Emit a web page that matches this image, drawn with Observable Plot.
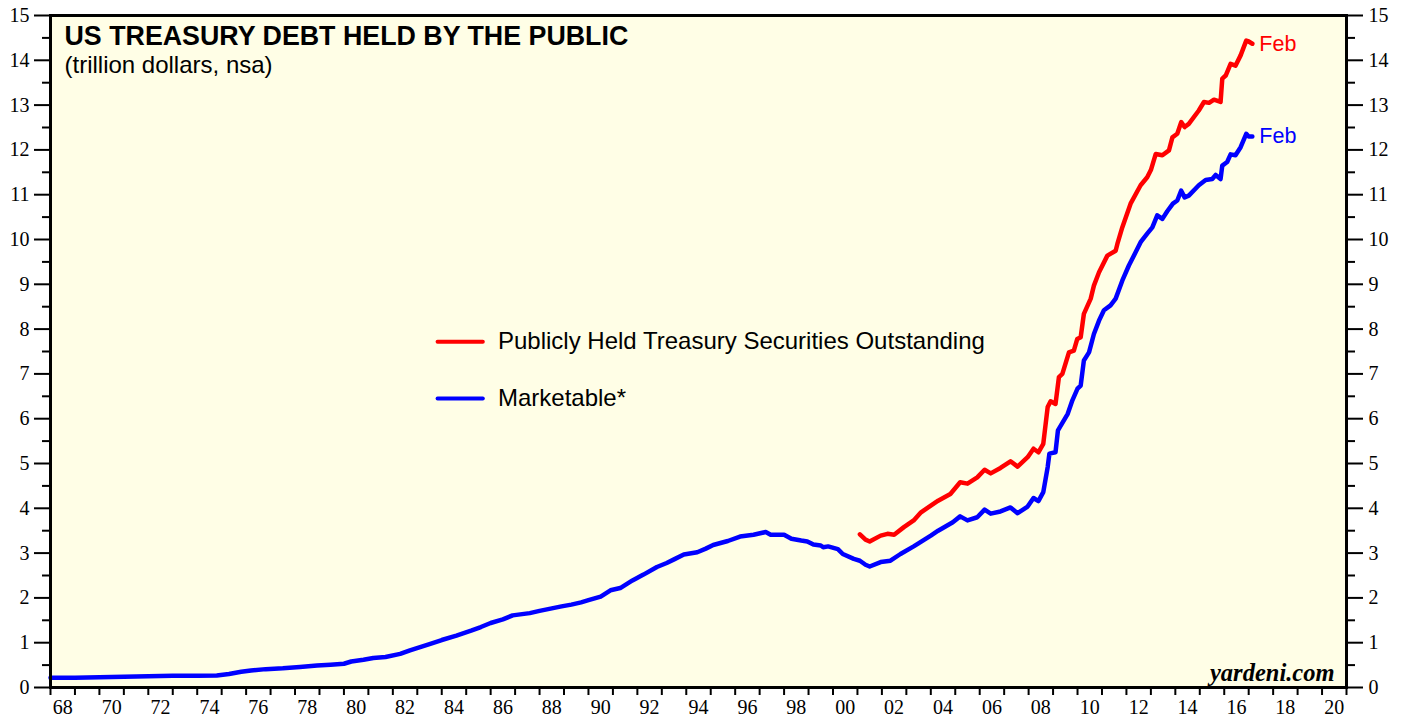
<!DOCTYPE html>
<html>
<head>
<meta charset="utf-8">
<script src="https://cdn.jsdelivr.net/npm/d3@7"></script>
<script src="https://cdn.jsdelivr.net/npm/@observablehq/plot@0.6"></script>
<style>
  html, body { margin: 0; padding: 0; background: #ffffff; }
  #chart { width: 1405px; height: 719px; }
</style>
</head>
<body>
<div id="chart"></div>
<script>
// ---- Data ----
const title = "US TREASURY DEBT HELD BY THE PUBLIC";
const subtitle = "(trillion dollars, nsa)";
const seriesNames = ["Publicly Held Treasury Securities Outstanding", "Marketable*"];
const seriesColors = ["#ff0000", "#0000ff"];
const lastLabel = "Feb";
const source = "yardeni.com";

// Marketable (blue)
const blueYears = [
  1968.0, 1969.0, 1970.0, 1971.0, 1972.0, 1973.0, 1974.0, 1974.8, 1975.3, 1975.8,
  1976.2, 1976.8, 1977.5, 1978.2, 1978.9, 1979.45, 1980.0, 1980.3, 1980.8, 1981.2,
  1981.7, 1982.3, 1982.7, 1983.5, 1984.0, 1984.6, 1985.2, 1985.6, 1986.0, 1986.5,
  1986.9, 1987.6, 1988.0, 1988.45, 1988.9, 1989.3, 1989.7, 1990.0, 1990.5, 1990.9,
  1991.3, 1991.8, 1992.25, 1992.8, 1993.2, 1993.5, 1993.9, 1994.45, 1994.8, 1995.1,
  1995.7, 1996.2, 1996.75, 1997.25, 1997.45, 1998.0, 1998.3, 1998.7, 1998.95, 1999.2,
  1999.5, 1999.6, 1999.8, 2000.2, 2000.4, 2000.85, 2001.1, 2001.33, 2001.5, 2001.95,
  2002.35, 2002.76, 2003.3, 2004.0, 2004.3, 2004.9, 2005.2, 2005.5, 2005.9, 2006.2,
  2006.45, 2006.85, 2007.26, 2007.55, 2007.96, 2008.2, 2008.4, 2008.6, 2008.78, 2008.85,
  2009.1, 2009.2, 2009.6, 2009.79, 2010.0, 2010.13, 2010.26, 2010.47, 2010.67, 2010.88,
  2011.08, 2011.35, 2011.56, 2011.83, 2012.1, 2012.38, 2012.58, 2012.85, 2013.06, 2013.26,
  2013.47, 2013.67, 2013.9, 2014.08, 2014.24, 2014.38, 2014.55, 2014.96, 2015.24, 2015.51,
  2015.65, 2015.85, 2015.92, 2016.12, 2016.26, 2016.46, 2016.67, 2016.9, 2017.0, 2017.15
];
const blueValues = [
  0.22, 0.22, 0.23, 0.24, 0.25, 0.26, 0.26, 0.27, 0.30, 0.35,
  0.38, 0.41, 0.43, 0.46, 0.49, 0.51, 0.53, 0.58, 0.62, 0.66,
  0.68, 0.75, 0.83, 0.97, 1.06, 1.16, 1.27, 1.35, 1.44, 1.52,
  1.61, 1.66, 1.71, 1.76, 1.81, 1.85, 1.90, 1.95, 2.03, 2.17,
  2.22, 2.39, 2.52, 2.69, 2.78, 2.86, 2.97, 3.02, 3.10, 3.18,
  3.27, 3.37, 3.41, 3.47, 3.41, 3.41, 3.32, 3.28, 3.26, 3.19,
  3.17, 3.13, 3.15, 3.09, 2.98, 2.87, 2.83, 2.74, 2.70, 2.80,
  2.83, 2.98, 3.15, 3.39, 3.50, 3.69, 3.82, 3.73, 3.80, 3.97,
  3.88, 3.93, 4.02, 3.89, 4.04, 4.23, 4.16, 4.36, 4.92, 5.22,
  5.25, 5.74, 6.11, 6.41, 6.67, 6.74, 7.30, 7.48, 7.89, 8.19,
  8.42, 8.53, 8.68, 9.08, 9.42, 9.72, 9.94, 10.13, 10.27, 10.54,
  10.46, 10.63, 10.80, 10.87, 11.09, 10.94, 10.98, 11.21, 11.33, 11.35,
  11.44, 11.35, 11.65, 11.73, 11.90, 11.88, 12.06, 12.36, 12.30, 12.30
];

// Publicly held treasury securities outstanding (red)
const redYears = [
  2001.1, 2001.33, 2001.5, 2001.95, 2002.23, 2002.5, 2002.9, 2003.3, 2003.6, 2004.0,
  2004.3, 2004.8, 2005.2, 2005.5, 2005.9, 2006.2, 2006.45, 2006.85, 2007.26, 2007.55,
  2007.96, 2008.2, 2008.4, 2008.6, 2008.78, 2008.9, 2009.1, 2009.24, 2009.38, 2009.65,
  2009.85, 2009.99, 2010.13, 2010.26, 2010.54, 2010.67, 2010.88, 2011.22, 2011.56, 2011.63,
  2011.83, 2012.17, 2012.58, 2012.85, 2013.0, 2013.2, 2013.47, 2013.74, 2013.88, 2014.08,
  2014.24, 2014.38, 2014.55, 2014.96, 2015.17, 2015.38, 2015.58, 2015.85, 2015.92, 2016.06,
  2016.26, 2016.46, 2016.67, 2016.9, 2017.0, 2017.15
];
const redValues = [
  3.42, 3.30, 3.26, 3.39, 3.43, 3.41, 3.58, 3.73, 3.91, 4.06,
  4.17, 4.32, 4.58, 4.55, 4.69, 4.86, 4.78, 4.90, 5.05, 4.93,
  5.14, 5.33, 5.25, 5.44, 6.26, 6.39, 6.33, 6.93, 7.00, 7.48,
  7.52, 7.78, 7.82, 8.34, 8.68, 8.97, 9.27, 9.64, 9.75, 9.90,
  10.27, 10.80, 11.21, 11.39, 11.55, 11.91, 11.88, 11.99, 12.28, 12.36,
  12.62, 12.51, 12.58, 12.88, 13.07, 13.05, 13.12, 13.07, 13.59, 13.66,
  13.92, 13.88, 14.11, 14.44, 14.42, 14.37
];

// Axis ticks
const xYearTicks = d3.range(1968, 2022);          // a tick at each year boundary
const xLabelYears = d3.range(1968, 2021, 2);      // labels every 2 years, centred in the year
const yMajorTicks = d3.range(0, 16);
const yMinorTicks = d3.range(0.5, 15, 1);

// ---- Build tables ----
const blue = blueYears.map((x, i) => ({x, y: blueValues[i]}));
const red = redYears.map((x, i) => ({x, y: redValues[i]}));
const legend = [
  {name: seriesNames[0], color: seriesColors[0], y: 7.72},
  {name: seriesNames[1], color: seriesColors[1], y: 6.45}
];
const lastPoints = [
  {...red[red.length - 1], color: seriesColors[0]},
  {...blue[blue.length - 1], color: seriesColors[1]}
];

const serif = "'Liberation Serif', 'Times New Roman', serif";
const sans = "'Liberation Sans', Arial, sans-serif";

const chart = Plot.plot({
  width: 1405,
  height: 719,
  marginLeft: 50,
  marginRight: 59,
  marginTop: 15,
  marginBottom: 32,
  style: {background: "#ffffff", fontFamily: serif, color: "#000"},
  x: {domain: [1968, 2021]},
  y: {domain: [0, 15]},
  marks: [
    Plot.frame({fill: "#fffee6"}),
    // Y axes (left and right), major and minor ticks
    Plot.axisY({anchor: "left", ticks: yMinorTicks, tickSize: 8, tickFormat: () => "", strokeWidth: 2, label: null}),
    Plot.axisY({anchor: "left", ticks: yMajorTicks, tickSize: 16, tickPadding: 5, tickFormat: d => String(d), strokeWidth: 2, fontSize: 20, fontFamily: serif, label: null}),
    Plot.axisY({anchor: "right", ticks: yMinorTicks, tickSize: 8, tickFormat: () => "", strokeWidth: 2, label: null}),
    Plot.axisY({anchor: "right", ticks: yMajorTicks, tickSize: 16, tickPadding: 6, tickFormat: d => String(d), strokeWidth: 2, fontSize: 20, fontFamily: serif, label: null}),
    // X axis: ticks at year boundaries, labels centred in even years
    Plot.axisX({anchor: "bottom", ticks: xYearTicks, tickSize: 8, tickFormat: () => "", strokeWidth: 2, label: null}),
    Plot.axisX({anchor: "bottom", ticks: xLabelYears.map(y => y + 0.5), tickSize: 0, tickPadding: 12,
      tickFormat: d => String(Math.floor(d) % 100).padStart(2, "0"), fontSize: 20, fontFamily: serif, label: null}),
    // Series
    Plot.line(blue, {x: "x", y: "y", stroke: seriesColors[1], strokeWidth: 4.5, strokeLinejoin: "round", strokeLinecap: "round"}),
    Plot.line(red, {x: "x", y: "y", stroke: seriesColors[0], strokeWidth: 4.5, strokeLinejoin: "round", strokeLinecap: "round"}),
    // End labels
    Plot.text(lastPoints, {x: "x", y: "y", text: () => lastLabel, fill: "color", dx: 7, textAnchor: "start",
      fontSize: 21.5, fontFamily: sans}),
    // Legend
    Plot.ruleY(legend, {y: "y", x1: 1983.85, x2: 1985.7, stroke: "color", strokeWidth: 4, strokeLinecap: "round"}),
    Plot.text(legend, {x: 1986.3, y: "y", text: "name", textAnchor: "start", fill: "#000", fontSize: 24, fontFamily: sans}),
    // Title / subtitle
    Plot.text([title], {frameAnchor: "top-left", dx: 14, dy: 10, lineAnchor: "top", textAnchor: "start",
      fontSize: 26.8, fontWeight: "bold", fontFamily: sans, fill: "#000"}),
    Plot.text([subtitle], {frameAnchor: "top-left", dx: 14, dy: 40, lineAnchor: "top", textAnchor: "start",
      fontSize: 24, fontFamily: sans, fill: "#000"}),
    // Source
    Plot.text([source], {frameAnchor: "bottom-right", dx: -12, dy: -7, lineAnchor: "bottom", textAnchor: "end",
      fontSize: 24.5, fontWeight: "bold", fontStyle: "italic", fontFamily: serif, fill: "#000"}),
    Plot.frame({stroke: "#000", strokeWidth: 3})
  ]
});
document.getElementById("chart").appendChild(chart);
</script>
</body>
</html>
